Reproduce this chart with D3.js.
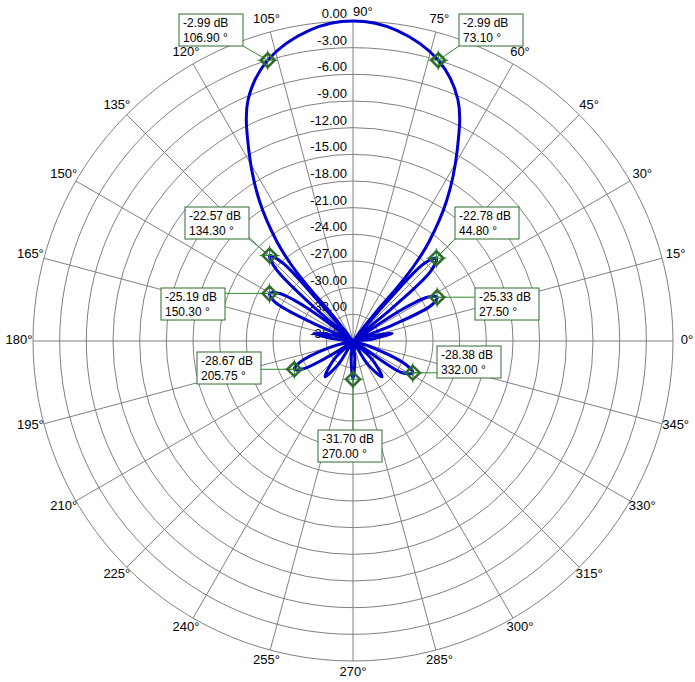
<!DOCTYPE html>
<html>
<head>
<meta charset="utf-8">
<script src="https://cdn.jsdelivr.net/npm/d3@7"></script>
<style>
body { margin: 0; background: #fff; }
text { font-family: "Liberation Sans", Arial, sans-serif; font-size: 12px; }
</style>
</head>
<body>
<svg id="chart" width="695" height="682"></svg>
<script>
// ring values (dB) and spoke angles (deg)
var ringValues = [0, -3, -6, -9, -12, -15, -18, -21, -24, -27, -30, -33, -36];
var spokeAngles = d3.range(0, 360, 15);

// pattern: angle (deg), gain (dB)
var patAngle = [0, 5, 11, 15, 18, 22, 24.5, 27.5, 30.5, 33, 36, 40, 42, 44.8, 47.5, 49, 50,
    51.5, 50.5, 51, 52.5, 56.3, 61.4, 66.5, 73.1, 82, 90, 98, 106.9, 113.5, 118.6, 123.7, 127.5, 129, 129.5, 128.5, 130,
    131, 132, 134.3, 137, 139, 141, 144, 147, 150.3, 153.5, 156, 159, 163, 169, 174, 180,
    185, 190, 196, 202, 205.75, 209, 214, 218, 224, 232, 238, 244, 252, 257, 264, 270, 276, 283,
    288, 293, 302, 309, 316, 322, 327, 332, 336, 342, 348, 353];
var patGain = [-40, -34, -31.5, -34, -40, -31, -26.3, -25.33, -26.3, -30, -40, -30, -24.2, -22.78, -24.2, -30, -40,
    -31.5, -28, -25, -22, -17, -11.5, -6.4, -2.99, -0.7, 0, -0.7, -2.99, -6.4, -11.5, -17, -22, -25, -28, -31.5, -40,
    -30, -24.2, -22.57, -24.2, -30, -40, -30, -26.2, -25.19, -26.2, -31, -40, -34, -31.5, -34, -40,
    -36.5, -40, -33, -29.5, -28.67, -29.5, -34, -40, -33, -30.9, -33, -40, -35, -40, -34, -31.7, -34, -40,
    -35, -40, -33, -30.8, -33, -40, -29.5, -28.38, -29.5, -34, -40, -35];

// markers
var mkAngle = [73.10, 106.90, 44.80, 134.30, 27.50, 150.30, 205.75, 270.00, 332.00];
var mkGain = [-2.99, -2.99, -22.78, -22.57, -25.33, -25.19, -28.67, -31.70, -28.38];
var mkBoxX = [459, 179, 455, 185, 475, 161, 197, 318, 437];
var mkBoxY = [14, 14, 207, 207, 288, 288, 352, 430, 346];

var svg = d3.select("#chart");
var cx = 353, cy = 341, R = 320;
var r = d3.scaleLinear().domain([-36, 0]).range([0, R]).clamp(true);
var rad = function(d) { return d * Math.PI / 180; };
var px = function(a, g) { return cx + r(g) * Math.cos(rad(a)); };
var py = function(a, g) { return cy - r(g) * Math.sin(rad(a)); };

var grid = svg.append("g").attr("stroke", "#808080").attr("fill", "none");
grid.selectAll("circle").data(ringValues.slice(0, 12)).enter().append("circle")
    .attr("cx", cx).attr("cy", cy).attr("r", function(d) { return r(d); });
grid.selectAll("line").data(spokeAngles).enter().append("line")
    .attr("x1", cx).attr("y1", cy)
    .attr("x2", function(d) { return px(d, 0); })
    .attr("y2", function(d) { return py(d, 0); });

svg.selectAll(".ring").data(ringValues).enter().append("text")
    .attr("x", 347).attr("text-anchor", "end").style("font-size", "13px")
    .attr("y", function(d) { return cy - r(d) - 3; })
    .text(function(d) { return d.toFixed(2); });

svg.selectAll(".ang").data(spokeAngles).enter().append("text")
    .attr("text-anchor", function(d) { return d == 90 ? "start" : "middle"; })
    .attr("dominant-baseline", "central")
    .style("font-size", "13px")
    .attr("x", function(d) { return d == 90 ? 353 : cx + (R + 14) * Math.cos(rad(d)); })
    .attr("y", function(d) { return d == 90 ? 11 : cy - (R + 12) * Math.sin(rad(d)) - 2; })
    .text(function(d) { return d + "°"; });

var pts = patAngle.map(function(a, i) { return [a, patGain[i]]; });
var line = d3.lineRadial()
    .angle(function(d) { return rad(90 - d[0]); })
    .radius(function(d) { return r(d[1]); })
    .curve(d3.curveCatmullRomClosed.alpha(0.5));
svg.append("path").attr("transform", "translate(" + cx + "," + cy + ")")
    .attr("d", line(pts)).attr("fill", "none")
    .attr("stroke", "#0000cc").attr("stroke-width", 3);

var green = "#2f6a2f";
mkAngle.forEach(function(a, i) {
    var x = px(a, mkGain[i]), y = py(a, mkGain[i]);
    var bx = mkBoxX[i], by = mkBoxY[i], bw = 64, bh = 32;
    var ex = x < bx ? bx : (x > bx + bw ? bx + bw : x);
    var ey = y < by ? by : (y > by + bh ? by + bh : y);
    var g = svg.append("g");
    g.append("line").attr("x1", x).attr("y1", y).attr("x2", ex).attr("y2", ey)
        .attr("stroke", "#2e8b2e");
    g.append("path").attr("d", "M" + (x - 10) + "," + y + "H" + (x + 10) + "M" + x + "," + (y - 10) + "V" + (y + 10))
        .attr("stroke", "#2e8b2e");
    g.append("path").attr("d", "M" + x + "," + (y - 7) + "L" + (x + 7) + "," + y + "L" + x + "," + (y + 7) + "L" + (x - 7) + "," + y + "Z")
        .attr("fill", "none").attr("stroke", green).attr("stroke-width", 2.5);
    g.append("rect").attr("x", bx).attr("y", by).attr("width", bw).attr("height", bh)
        .attr("fill", "#fff").attr("stroke", green);
    g.append("text").attr("x", bx + 4).attr("y", by + 13).text(mkGain[i].toFixed(2) + " dB");
    g.append("text").attr("x", bx + 4).attr("y", by + 28).text(a.toFixed(2) + " °");
});
</script>
</body>
</html>
